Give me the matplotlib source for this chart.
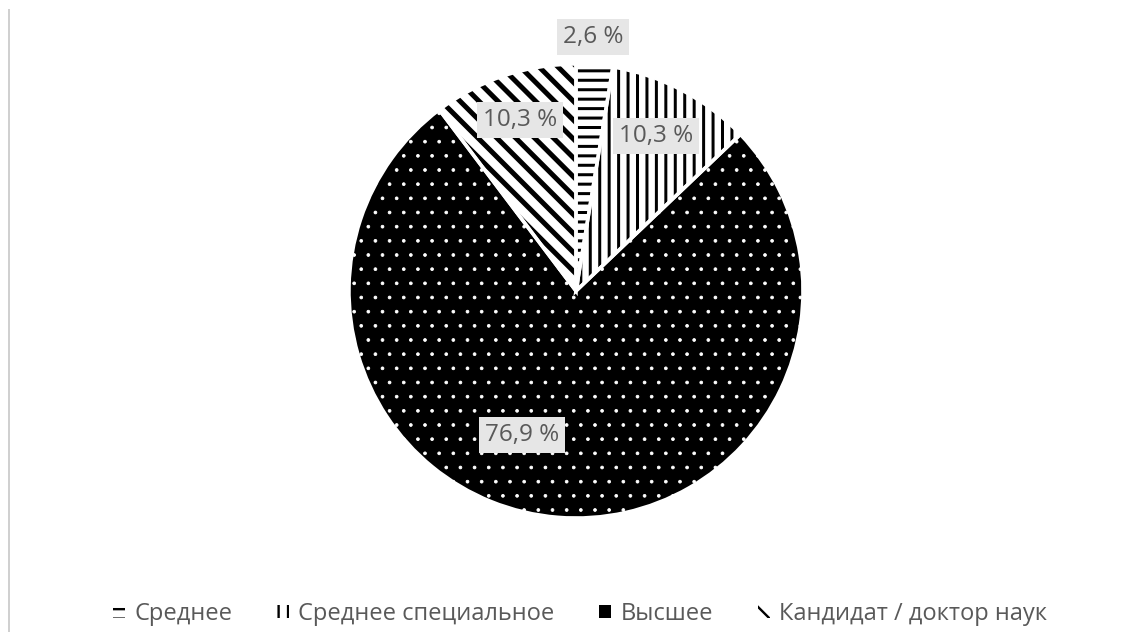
import matplotlib.pyplot as plt
from matplotlib.patches import Patch
from matplotlib.lines import Line2D

# Уровень образования: доли в процентах
categories = ['Среднее', 'Среднее специальное', 'Высшее', 'Кандидат / доктор наук']
values = [2.6, 10.3, 76.9, 10.3]
pct_labels = ['2,6 %', '10,3 %', '76,9 %', '10,3 %']

# высокий dpi -> более крупный шаг штриховки (единица штриховки = 1 дюйм)
DPI = 170
W, H = 1132, 632


def pt(px):
    # пиксели -> пункты при выбранном dpi
    return px * 72 / DPI


def fs(size100):
    # размер шрифта, подобранный для dpi=100
    return size100 * 100 / DPI


plt.rcParams['font.family'] = ['Open Sans', 'DejaVu Sans']

fig = plt.figure(figsize=(W / DPI, H / DPI), dpi=DPI)
# центр круга ~ (576, 291) px, радиус ~ 227 px
ax = fig.add_axes([(576 - 227) / W, (H - 291 - 227) / H, 454 / W, 454 / H])

faces = ['white', 'white', 'black', 'white']
hatch_col = ['black', 'black', 'white', 'black']
hatches = ['---', '|||', '..', '\\\\\\']
hatch_lw = [pt(3), pt(3), pt(0.8), pt(5)]


def style(patch, fc, hc, h, hlw):
    patch.set_facecolor(fc)
    patch.set_edgecolor(hc)
    patch.set_hatch(h)
    patch.set_linewidth(0)
    if hasattr(patch, 'set_hatch_linewidth'):
        patch.set_hatch_linewidth(hlw)
    else:
        patch._hatch_linewidth = hlw


# первый проход: заливка + штриховка (цвет штриховки = edgecolor)
wedges, _ = ax.pie(values, startangle=90, counterclock=False, radius=1)
for w, fc, hc, h, hlw in zip(wedges, faces, hatch_col, hatches, hatch_lw):
    style(w, fc, hc, h, hlw)

# второй проход: белые разделители между секторами
ax.pie(values, startangle=90, counterclock=False, radius=1,
       wedgeprops=dict(fill=False, edgecolor='white', linewidth=pt(3.5)))

ax.set_xlim(-1, 1)
ax.set_ylim(-1, 1)
ax.axis('off')

# подписи долей (позиции как в исходнике)
label_pos = [(0.075, 1.119), (0.352, 0.683), (-0.238, -0.634), (-0.247, 0.753)]
for (x, y), txt in zip(label_pos, pct_labels):
    ax.text(x, y, txt, ha='center', va='center', fontsize=fs(17.5), color='#595959',
            bbox=dict(boxstyle='square,pad=0.25', facecolor='#e6e6e6', edgecolor='none'))

# в легенде маркер "Высшее" - сплошной чёрный квадрат
handles = []
for fc, hc, h, hlw in zip(faces, hatch_col, hatches, hatch_lw):
    p = Patch()
    style(p, fc, hc, None if fc == 'black' else h, hlw)
    handles.append(p)
fig.legend(handles, categories, loc='center', bbox_to_anchor=(580 / W, 1 - 614 / H),
           ncol=4, frameon=False, fontsize=fs(17), labelcolor='#595959',
           handlelength=0.5, handleheight=0.5, handletextpad=0.4, columnspacing=1.9)

# серая линия слева (рамка области)
fig.add_artist(Line2D([9 / W, 9 / W], [0, 1 - 10 / H], color='#d0d0d0', linewidth=pt(2)))

fig.savefig('out.png', dpi=DPI, facecolor='white')
